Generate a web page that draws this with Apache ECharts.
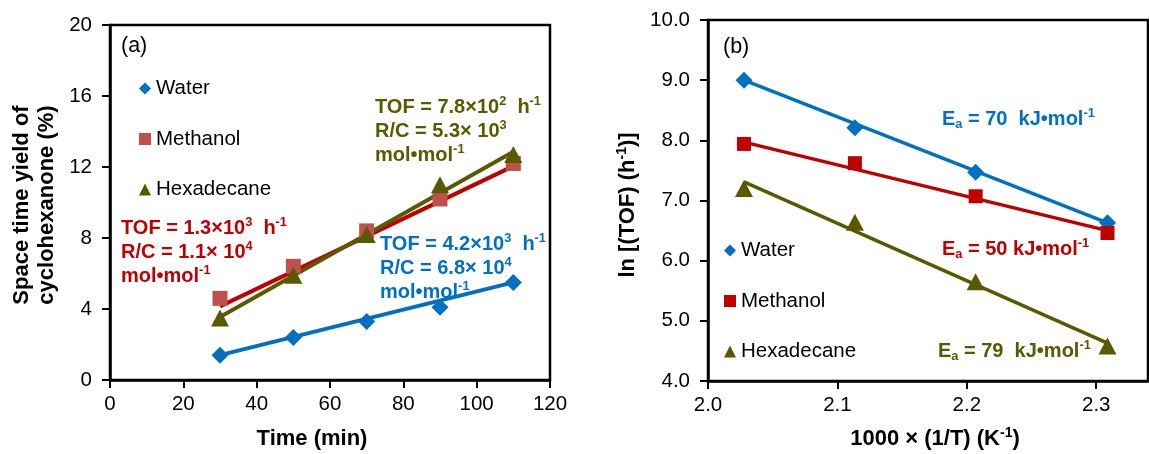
<!DOCTYPE html>
<html>
<head>
<meta charset="utf-8">
<script src="https://cdn.jsdelivr.net/npm/echarts@6/dist/echarts.min.js"></script>
<style>
  html, body { margin: 0; padding: 0; background: #fff; }
  #chart { width: 1149px; height: 454px; }
</style>
</head>
<body>
<div id="chart"></div>
<script>
// ---- panel (a): yield vs time ----
const timeMin = [30, 50, 70, 90, 110];
const yieldWater = [1.4, 2.4, 3.3, 4.1, 5.5];
const yieldMethanol = [4.6, 6.4, 8.4, 10.2, 12.2];
const yieldHexadecane = [3.5, 5.9, 8.2, 11.0, 12.7];
// straight-line fits, start and end values at 30 and 110 min
const fitTime = [30, 110];
const fitWaterA = [1.4, 5.5];
const fitMethanolA = [4.15, 12.05];
const fitHexadecaneA = [3.55, 12.86];
const ticksA_x = [0, 20, 40, 60, 80, 100, 120];
const ticksA_y = [0, 4, 8, 12, 16, 20];

// ---- panel (b): Arrhenius plot ----
const invT = [2.0278, 2.1135, 2.2068, 2.3087];
const lnWater = [9.0, 8.21, 7.47, 6.63];
const lnMethanol = [7.94, 7.62, 7.07, 6.46];
const lnHexadecane = [7.2, 6.64, 5.65, 4.58];
const fitInvT = [2.0278, 2.3087];
const fitWaterB = [9.0, 6.63];
const fitMethanolB = [7.97, 6.50];
const fitHexadecaneB = [7.31, 4.63];
const ticksB_x = [2.0, 2.1, 2.2, 2.3];

const solvents = ['Water', 'Methanol', 'Hexadecane'];

const BLUE = '#0070C0';
const RED = '#C00000';
const RED_LIGHT = '#C0504D';
const OLIVE = '#595900';
const FONT = '"Liberation Sans", Arial, sans-serif';

const pairs = (xs, ys) => xs.map((x, i) => [x, ys[i]]);

function fitLine(name, xs, ys, color, idx, width) {
  return {
    type: 'line', name: name, xAxisIndex: idx, yAxisIndex: idx,
    data: pairs(xs, ys), symbol: 'none', silent: true, z: 2,
    lineStyle: { color: color, width: width }, itemStyle: { color: color }
  };
}
function points(name, xs, ys, color, symbol, size, idx) {
  return {
    type: 'scatter', name: name, xAxisIndex: idx, yAxisIndex: idx,
    data: pairs(xs, ys), symbol: symbol, symbolSize: size, z: 3,
    itemStyle: { color: color, opacity: 1 }
  };
}

const tickLabel = { fontFamily: FONT, fontSize: 20.5, color: '#000' };

function xAxisCfg(idx, min, max, interval, ticks, fmt) {
  return {
    type: 'value', gridIndex: idx, min: min, max: max, interval: interval,
    axisLine: { show: true, onZero: false, lineStyle: { color: '#000', width: 2.5 } },
    axisTick: { show: true, inside: false, length: 8, lineStyle: { color: '#000', width: 2 }, customValues: ticks },
    axisLabel: Object.assign({ margin: 14, customValues: ticks, formatter: fmt }, tickLabel),
    splitLine: { show: false }
  };
}
function yAxisCfg(idx, min, max, interval, ticks, fmt) {
  return {
    type: 'value', gridIndex: idx, min: min, max: max, interval: interval,
    axisLine: { show: true, onZero: false, lineStyle: { color: '#000', width: 2.5 } },
    axisTick: { show: true, inside: false, length: 8, lineStyle: { color: '#000', width: 2 }, customValues: ticks },
    axisLabel: Object.assign({ margin: 18, customValues: ticks, formatter: fmt }, tickLabel),
    splitLine: { show: false }
  };
}

// rich-text styles for annotations (superscripts / subscripts)
function richFor(color, size) {
  return {
    t: { fontFamily: FONT, fontSize: size, fontWeight: 'bold', fill: color, color: color, lineHeight: 24 },
    s: { fontFamily: FONT, fontSize: size * 0.64, fontWeight: 'bold', fill: color, color: color, verticalAlign: 'top', lineHeight: 17 },
    b: { fontFamily: FONT, fontSize: size * 0.64, fontWeight: 'bold', fill: color, color: color, verticalAlign: 'bottom', lineHeight: 18 }
  };
}
function note(left, top, text, color, size) {
  return {
    type: 'text', left: left, top: top, z: 10, silent: true,
    style: { text: text, rich: richFor(color, size || 20), fill: color }
  };
}
const TITLE_SIZE = 22;
function title(x, y, text, rotate, rich) {
  return {
    type: 'text', x: x, y: y, rotation: rotate ? Math.PI / 2 : 0, z: 10, silent: true,
    style: {
      text: text, fill: '#000', align: 'center', verticalAlign: 'middle',
      font: 'bold ' + TITLE_SIZE + 'px ' + FONT, rich: rich
    }
  };
}
const titleRich = {
  t: { fontFamily: FONT, fontSize: TITLE_SIZE, fontWeight: 'bold', fill: '#000', lineHeight: 26 },
  s: { fontFamily: FONT, fontSize: 14, fontWeight: 'bold', fill: '#000', verticalAlign: 'top', lineHeight: 18 }
};

function legendCfg(left, top, colors, symbols) {
  return {
    orient: 'vertical', left: left, top: top, itemGap: 29.5, padding: 0,
    itemWidth: 12, itemHeight: 12, selectedMode: false,
    textStyle: { fontFamily: FONT, fontSize: 20.5, color: '#000', lineHeight: 20, padding: [0, 0, 0, 0] },
    data: solvents.map((n, i) => ({ name: n, icon: symbols[i], itemStyle: { color: colors[i] } }))
  };
}

const option = {
  animation: false,
  backgroundColor: '#fff',
  grid: [
    { left: 110, top: 25, width: 440, height: 355, show: true, borderColor: '#000', borderWidth: 2.5, backgroundColor: 'transparent' },
    { left: 708, top: 20, width: 440, height: 361, show: true, borderColor: '#000', borderWidth: 2.5, backgroundColor: 'transparent' }
  ],
  xAxis: [
    xAxisCfg(0, 0, 120, 20, ticksA_x, v => String(v)),
    xAxisCfg(1, 2.0, 2.34, 0.1, ticksB_x, v => v.toFixed(1))
  ],
  yAxis: [
    yAxisCfg(0, 0, 20, 4, ticksA_y, v => String(v)),
    yAxisCfg(1, 4, 10, 1, undefined, v => v.toFixed(1))
  ],
  legend: [
    legendCfg(139, 78, [BLUE, RED_LIGHT, OLIVE], ['diamond', 'rect', 'triangle']),
    legendCfg(724, 240, [BLUE, RED, OLIVE], ['diamond', 'rect', 'triangle'])
  ],
  series: [
    fitLine('Water fit a', fitTime, fitWaterA, BLUE, 0, 4),
    fitLine('Methanol fit a', fitTime, fitMethanolA, RED, 0, 4),
    fitLine('Hexadecane fit a', fitTime, fitHexadecaneA, OLIVE, 0, 4),
    points('Water', timeMin, yieldWater, BLUE, 'diamond', 17, 0),
    points('Methanol', timeMin, yieldMethanol, RED_LIGHT, 'rect', 15, 0),
    points('Hexadecane', timeMin, yieldHexadecane, OLIVE, 'triangle', [18, 17], 0),

    fitLine('Water fit b', fitInvT, fitWaterB, BLUE, 1, 3.5),
    fitLine('Methanol fit b', fitInvT, fitMethanolB, RED, 1, 3.5),
    fitLine('Hexadecane fit b', fitInvT, fitHexadecaneB, OLIVE, 1, 3.5),
    points('Water', invT, lnWater, BLUE, 'diamond', 17, 1),
    points('Methanol', invT, lnMethanol, RED, 'rect', 14, 1),
    points('Hexadecane', invT, lnHexadecane, OLIVE, 'triangle', [18, 17], 1)
  ],
  graphic: [
    { type: 'text', left: 121, top: 35, silent: true, style: { text: '(a)', font: '21.5px ' + FONT, fill: '#000' } },
    { type: 'text', left: 723, top: 36, silent: true, style: { text: '(b)', font: '21.5px ' + FONT, fill: '#000' } },

    note(121, 216, '{t|TOF = 1.3×10}{s|3}{t|  h}{s|-1}\n{t|R/C = 1.1× 10}{s|4}\n{t|mol•mol}{s|-1}', RED),
    note(375, 95, '{t|TOF = 7.8×10}{s|2}{t|  h}{s|-1}\n{t|R/C = 5.3× 10}{s|3}\n{t|mol•mol}{s|-1}', OLIVE),
    note(380, 232, '{t|TOF = 4.2×10}{s|3}{t|  h}{s|-1}\n{t|R/C = 6.8× 10}{s|4}\n{t|mol•mol}{s|-1}', BLUE),

    note(942, 107, '{t|E}{b|a}{t| = 70  kJ•mol}{s|-1}', BLUE),
    note(942, 237, '{t|E}{b|a}{t| = 50 kJ•mol}{s|-1}', RED),
    note(938, 339, '{t|E}{b|a}{t| = 79  kJ•mol}{s|-1}', OLIVE),

    title(22, 205, 'Space time yield of', true),
    title(47, 205, 'cyclohexanone (%)', true),
    title(312, 439, 'Time (min)', false),
    title(628, 205, '{t|ln [(TOF) (h}{s|-1}{t|)]}', true, titleRich),
    title(935, 439, '{t|1000 × (1/T) (K}{s|-1}{t|)}', false, titleRich)
  ]
};

const chart = echarts.init(document.getElementById('chart'), null, { renderer: 'canvas' });
chart.setOption(option);
</script>
</body>
</html>
